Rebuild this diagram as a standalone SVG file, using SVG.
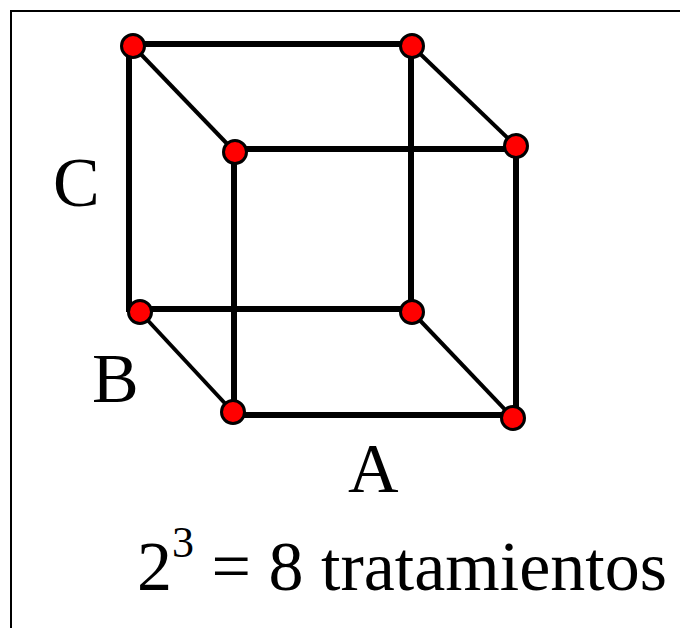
<svg xmlns="http://www.w3.org/2000/svg" width="680" height="628" viewBox="0 0 680 628">
<style>
.edge{stroke:#000;stroke-width:6;fill:none;stroke-linecap:square}
.diag{stroke:#000;stroke-width:4;fill:none}
.node{fill:#ff0000;stroke:#000;stroke-width:3}
.lbl{font-size:70px;fill:#000}
</style>
<rect x="0" y="0" width="680" height="628" fill="#fff"/>
<rect x="11" y="11" width="700" height="660" fill="none" stroke="#000" stroke-width="2"/>
<g id="connectors">
<line class="edge" x1="129" y1="44" x2="411" y2="44"/>
<line class="edge" x1="129" y1="44" x2="129" y2="309"/>
<line class="edge" x1="129" y1="309" x2="411" y2="309"/>
<line class="edge" x1="411" y1="44" x2="411" y2="309"/>
<line class="edge" x1="234" y1="149" x2="516" y2="149"/>
<line class="edge" x1="234" y1="149" x2="234" y2="415"/>
<line class="edge" x1="234" y1="415" x2="516" y2="415"/>
<line class="edge" x1="516" y1="149" x2="516" y2="415"/>
<line class="diag" x1="133" y1="46" x2="235" y2="152"/>
<line class="diag" x1="412" y1="46" x2="516" y2="146"/>
<line class="diag" x1="140" y1="312" x2="233" y2="412"/>
<line class="diag" x1="412" y1="312" x2="513" y2="418"/>
</g>
<g id="n_back_top_left"><circle class="node" cx="133" cy="46" r="11.5"/></g>
<g id="n_back_top_right"><circle class="node" cx="412" cy="46" r="11.5"/></g>
<g id="n_front_top_left"><circle class="node" cx="235" cy="152" r="11.5"/></g>
<g id="n_front_top_right"><circle class="node" cx="516" cy="146" r="11.5"/></g>
<g id="n_back_bottom_left"><circle class="node" cx="140" cy="312" r="11.5"/></g>
<g id="n_back_bottom_right"><circle class="node" cx="412" cy="312" r="11.5"/></g>
<g id="n_front_bottom_left"><circle class="node" cx="233" cy="412" r="11.5"/></g>
<g id="n_front_bottom_right"><circle class="node" cx="513" cy="418" r="11.5"/></g>
<g id="labels" font-family="'Liberation Serif', 'DejaVu Serif', serif">
<text class="lbl" x="53" y="206">C</text>
<text class="lbl" x="92" y="402">B</text>
<text class="lbl" x="348" y="492">A</text>
<text class="lbl" x="137" y="590">2<tspan font-size="44" dy="-33">3</tspan><tspan dy="33"> = 8 tratamientos</tspan></text>
</g>
</svg>
